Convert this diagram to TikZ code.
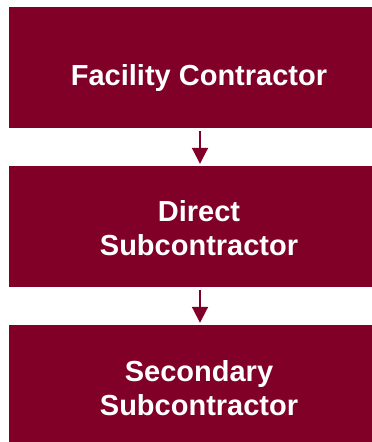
\documentclass[tikz,border=0pt]{standalone}
\usepackage{fontspec}
\setmainfont{Liberation Sans}
\usetikzlibrary{arrows.meta}
\definecolor{boxred}{HTML}{800028}
\tikzset{
  box/.style={fill=boxred, draw=none, minimum width=382pt, minimum height=121pt, inner sep=0pt},
  label/.style={text=white, font=\fontsize{29}{34}\selectfont\bfseries, align=center, inner sep=0pt},
  arr/.style={draw=boxred, line width=2pt, -{Triangle[width=16pt,length=16pt]}, shorten <=3pt, shorten >=2pt}
}
\begin{document}
\begin{tikzpicture}[x=1pt,y=-1pt]
\useasboundingbox (0,0) rectangle (372,442);
\clip (0,0) rectangle (372,442);
\node[box] (b1) at (200,67.5) {};
\node[box] (b2) at (200,226.5) {};
\node[box] (b3) at (200,385.5) {};
\node[label, anchor=base] (t1) at (199,85) {Facility Contractor};
\node[label] (t2) at (199,228.5) {Direct\\Subcontractor};
\node[label] (t3) at (199,388) {Secondary\\Subcontractor};
\draw[arr] (b1.south) -- (b2.north);
\draw[arr] (b2.south) -- (b3.north);
\end{tikzpicture}
\end{document}
